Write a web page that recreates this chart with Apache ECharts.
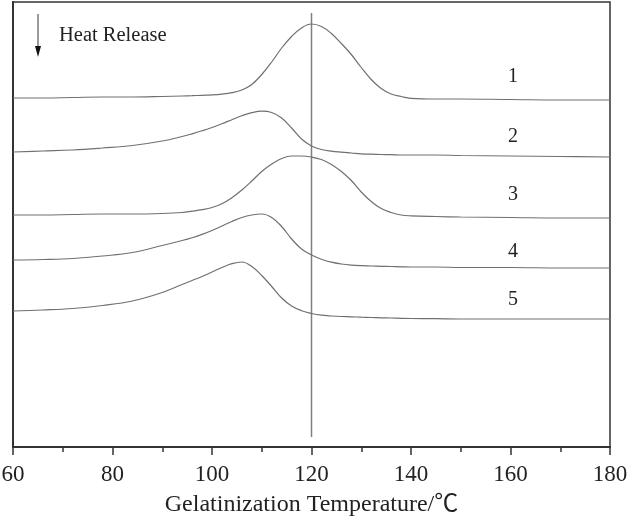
<!DOCTYPE html>
<html>
<head>
<meta charset="utf-8">
<script src="https://cdn.jsdelivr.net/npm/echarts@6/dist/echarts.min.js"></script>
<style>html,body{margin:0;padding:0;background:#fff}#c{width:630px;height:516px}</style>
</head>
<body>
<div id="c"></div>
<script>
// Gelatinization temperature (°C)
const temps = [60,66,72,78,84,90,94,96,98,100,102,104,106,108,110,112,114,116,118,120,122,124,126,128,130,132,134,136,138,140,145,150,160,170,180];
// Heat flow (arbitrary units, curves offset vertically)
const curve1 = [349,349,349.5,350,350,350.5,351,351.3,351.7,352.1,352.9,354.3,357,362.5,372.5,385,399,410.5,419,423,420.5,413.5,403.5,392.5,379.5,367.5,358.5,353,350.5,348.7,348,348,347.5,347,347];
const curve2 = [295,296,297,299,301.5,306,310.5,313.2,316.2,319.5,323.3,327.3,331.3,334.3,335.8,334.5,329,319,308,301,297.5,295.8,294.8,294,293.2,292.8,292.5,292.3,292,292,292,291.5,291,290.5,290];
const curve3 = [232,232,232.5,233,233,233.5,234.5,235.8,237.3,239.5,243.3,249.3,257,266,275.5,283,288.5,291,291,290,287.5,282.5,275.5,266.5,255,245.5,238.5,234.5,232,231.2,230.5,230,229.5,229,229];
const curve4 = [187,187.5,188.5,191,194.5,201.5,206.5,209.3,212.6,216.5,221,225.5,229.5,232,233,229.5,220.5,208,198,192,187.8,184.8,183,181.9,181.3,181,180.7,180.5,180.2,180,180,179.5,179.5,179,179];
const curve5 = [136,137,138.5,141.5,146,154.5,162.5,166.5,170.5,175,179.5,183.3,185,180.5,171.5,160.5,149,141,136.3,133.5,131.8,131,130.5,130.2,129.8,129.5,129.2,129,128.7,128.5,128.3,128,128,128,128];
const curveNames = ['1','2','3','4','5'];
const labelPos = [[160.5,370],[160.5,310],[160.5,252],[160.5,195],[160.5,147]];
const refTemp = 120;
const refRange = [10,434];
const xTicks = [60,80,100,120,140,160,180];

const allCurves = [curve1,curve2,curve3,curve4,curve5];
const font = '"Liberation Serif","Times New Roman",serif';
const nameFont = '"Liberation Serif","Noto Sans CJK SC",serif';

const series = allCurves.map((c,i)=>({
  type:'line', name:curveNames[i], smooth:0.4, showSymbol:false, silent:true,
  data: temps.map((t,j)=>[t,c[j]]),
  lineStyle:{color:'#707070', width:1.2},
  markPoint:{
    symbol:'circle', symbolSize:0, silent:true,
    data:[{coord:labelPos[i], value:curveNames[i]}],
    label:{show:true, position:'inside', formatter:curveNames[i], fontFamily:font, fontSize:20, color:'#222'}
  },
  z:2
}));
series.push({
  type:'line', showSymbol:false, silent:true,
  data:[[refTemp,refRange[0]],[refTemp,refRange[1]]],
  lineStyle:{color:'#808080', width:1.5}, z:1
});

const chart = echarts.init(document.getElementById('c'), null, {renderer:'canvas'});
chart.setOption({
  animation:false,
  backgroundColor:'#fff',
  grid:{left:13, right:20, top:2, bottom:69, outerBoundsMode:'none', containLabel:false,
    show:true, borderColor:'#333', borderWidth:1.5, backgroundColor:'transparent'},
  xAxis:{
    type:'value', min:60, max:180, interval:20,
    name:'Gelatinization Temperature/\u2103', nameLocation:'middle', nameGap:46,
    nameTextStyle:{fontFamily:nameFont, fontSize:24, color:'#222'},
    axisLine:{show:true, lineStyle:{color:'#333', width:2}},
    axisTick:{show:true, inside:false, length:8, lineStyle:{color:'#333', width:1.5}},
    minorTick:{show:true, splitNumber:2, length:5, lineStyle:{color:'#333', width:1.5}},
    axisLabel:{fontFamily:font, fontSize:23, color:'#222', margin:16,
      formatter:v=>xTicks.includes(v)?String(v):''},
    splitLine:{show:false}
  },
  yAxis:{
    type:'value', min:0, max:445,
    axisLine:{show:true, lineStyle:{color:'#333', width:2}},
    axisTick:{show:false}, axisLabel:{show:false}, splitLine:{show:false}
  },
  graphic:[
    {type:'line', shape:{x1:38,y1:14,x2:38,y2:50}, style:{stroke:'#555', lineWidth:1.2}},
    {type:'polygon', shape:{points:[[35,46],[41,46],[38,57]]}, style:{fill:'#111'}},
    {type:'text', left:59, top:25, style:{text:'Heat Release', font:'20.5px '+font, fill:'#222'}}
  ],
  series:series
});
</script>
</body>
</html>
